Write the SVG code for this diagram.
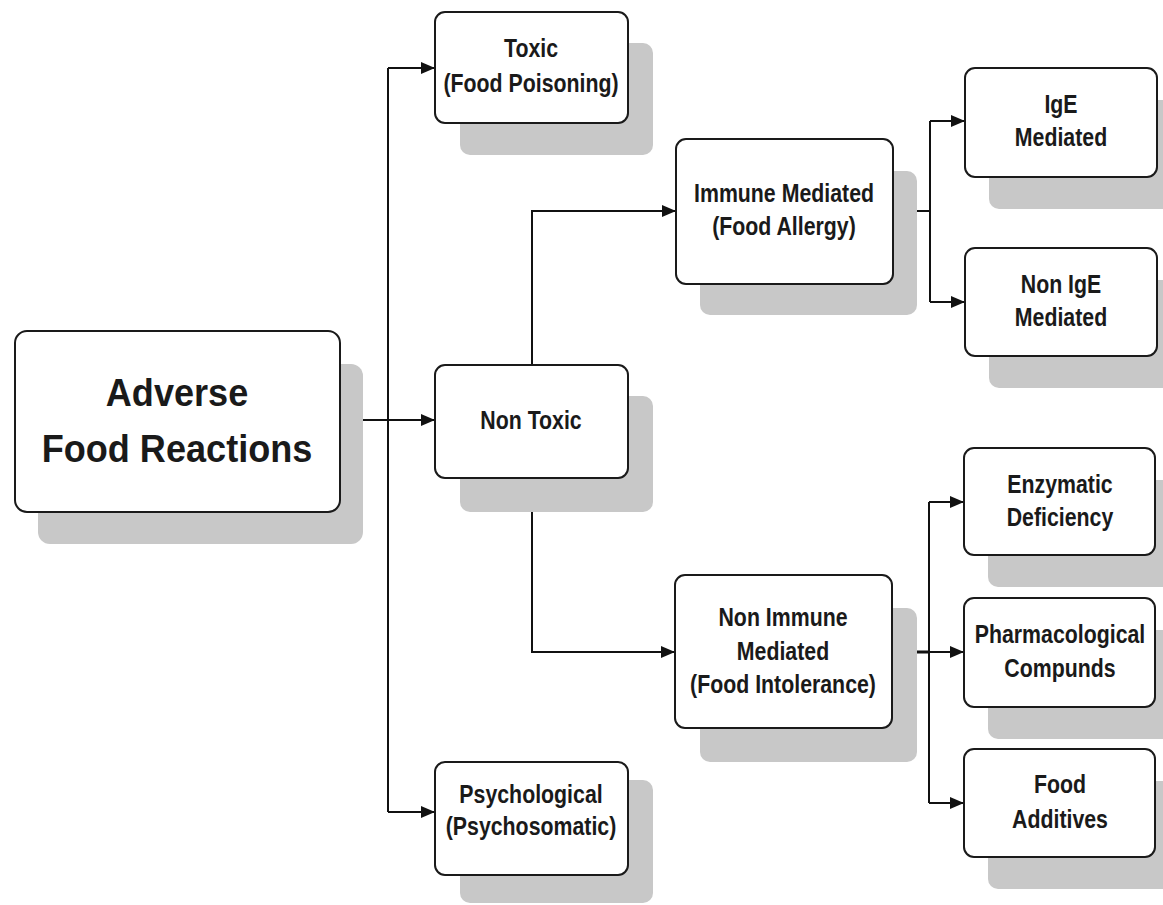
<svg xmlns="http://www.w3.org/2000/svg" width="1163" height="905" viewBox="0 0 1163 905">
<defs>
<style>
.sh{fill:#c8c8c8;stroke:none}
.bx{fill:#fff;stroke:#1a1a1a;stroke-width:2}
.t{font-family:"Liberation Sans",Arial,sans-serif;font-weight:bold;font-size:26px;fill:#1a1a1a;text-anchor:middle}
.big{font-size:38px}
.c{fill:none;stroke:#111;stroke-width:2}
</style>
<marker id="ar" viewBox="0 0 14 12" refX="14" refY="6" markerWidth="14" markerHeight="12" markerUnits="userSpaceOnUse" orient="auto">
<path d="M0,0 L14,6 L0,12 z" fill="#111"/>
</marker>
</defs>
<rect width="1163" height="905" fill="#fff"/>
<g id="connectors">
<path class="c" d="M340,420 H435" marker-end="url(#ar)"/>
<path class="c" d="M388,68 V812"/>
<path class="c" d="M388,68 H435" marker-end="url(#ar)"/>
<path class="c" d="M388,812 H435" marker-end="url(#ar)"/>
<path class="c" d="M532,365 V211 H676" marker-end="url(#ar)"/>
<path class="c" d="M532,478 V652 H675" marker-end="url(#ar)"/>
<path class="c" d="M893,211 H930"/>
<path class="c" d="M930,121 V302"/>
<path class="c" d="M930,121 H965" marker-end="url(#ar)"/>
<path class="c" d="M930,302 H965" marker-end="url(#ar)"/>
<path class="c" style="stroke-width:3" d="M892,652 H929"/>
<path class="c" d="M929,652 H964" marker-end="url(#ar)"/>
<path class="c" d="M929,502 V803"/>
<path class="c" d="M929,502 H964" marker-end="url(#ar)"/>
<path class="c" d="M929,803 H964" marker-end="url(#ar)"/>
</g>
<g id="adverse">
<rect class="sh" x="38" y="364" width="325" height="180" rx="12"/>
<rect class="bx" x="15" y="331" width="325" height="181" rx="12"/>
<g transform="translate(177,0) scale(0.95,1)">
<text class="t big" x="0" y="406">Adverse</text>
<text class="t big" x="0" y="462">Food Reactions</text>
</g>
</g>
<g id="toxic">
<rect class="sh" x="460" y="43" width="193" height="112" rx="10"/>
<rect class="bx" x="435" y="12" width="193" height="111" rx="10"/>
<g transform="translate(531,0) scale(0.82,1)">
<text class="t" x="0" y="57">Toxic</text>
<text class="t" x="0" y="92">(Food Poisoning)</text>
</g>
</g>
<g id="nontoxic">
<rect class="sh" x="460" y="396" width="193" height="116" rx="10"/>
<rect class="bx" x="435" y="365" width="193" height="113" rx="10"/>
<g transform="translate(531,0) scale(0.82,1)">
<text class="t" x="0" y="429">Non Toxic</text>
</g>
</g>
<g id="psychological">
<rect class="sh" x="460" y="780" width="193" height="123" rx="10"/>
<rect class="bx" x="435" y="762" width="193" height="113" rx="10"/>
<g transform="translate(531,0) scale(0.82,1)">
<text class="t" x="0" y="803">Psychological</text>
<text class="t" x="0" y="835">(Psychosomatic)</text>
</g>
</g>
<g id="immune">
<rect class="sh" x="700" y="171" width="217" height="144" rx="10"/>
<rect class="bx" x="676" y="139" width="217" height="145" rx="10"/>
<g transform="translate(784,0) scale(0.82,1)">
<text class="t" x="0" y="202">Immune Mediated</text>
<text class="t" x="0" y="235">(Food Allergy)</text>
</g>
</g>
<g id="nonimmune">
<rect class="sh" x="700" y="608" width="217" height="154" rx="10"/>
<rect class="bx" x="675" y="575" width="217" height="153" rx="10"/>
<g transform="translate(783,0) scale(0.82,1)">
<text class="t" x="0" y="626">Non Immune</text>
<text class="t" x="0" y="660">Mediated</text>
<text class="t" x="0" y="693">(Food Intolerance)</text>
</g>
</g>
<g id="ige">
<rect class="sh" x="989" y="100" width="192" height="109" rx="10"/>
<rect class="bx" x="965" y="68" width="192" height="109" rx="10"/>
<g transform="translate(1061,0) scale(0.82,1)">
<text class="t" x="0" y="113">IgE</text>
<text class="t" x="0" y="146">Mediated</text>
</g>
</g>
<g id="nonige">
<rect class="sh" x="989" y="280" width="192" height="108" rx="10"/>
<rect class="bx" x="965" y="248" width="192" height="108" rx="10"/>
<g transform="translate(1061,0) scale(0.82,1)">
<text class="t" x="0" y="293">Non IgE</text>
<text class="t" x="0" y="326">Mediated</text>
</g>
</g>
<g id="enzymatic">
<rect class="sh" x="988" y="480" width="192" height="107" rx="10"/>
<rect class="bx" x="964" y="448" width="191" height="107" rx="10"/>
<g transform="translate(1060,0) scale(0.82,1)">
<text class="t" x="0" y="493">Enzymatic</text>
<text class="t" x="0" y="526">Deficiency</text>
</g>
</g>
<g id="pharmacological">
<rect class="sh" x="988" y="630" width="192" height="109" rx="10"/>
<rect class="bx" x="964" y="598" width="191" height="109" rx="10"/>
<g transform="translate(1060,0) scale(0.82,1)">
<text class="t" x="0" y="643">Pharmacological</text>
<text class="t" x="0" y="677">Compunds</text>
</g>
</g>
<g id="additives">
<rect class="sh" x="988" y="781" width="192" height="108" rx="10"/>
<rect class="bx" x="964" y="749" width="191" height="108" rx="10"/>
<g transform="translate(1060,0) scale(0.82,1)">
<text class="t" x="0" y="793">Food</text>
<text class="t" x="0" y="828">Additives</text>
</g>
</g>
</svg>
